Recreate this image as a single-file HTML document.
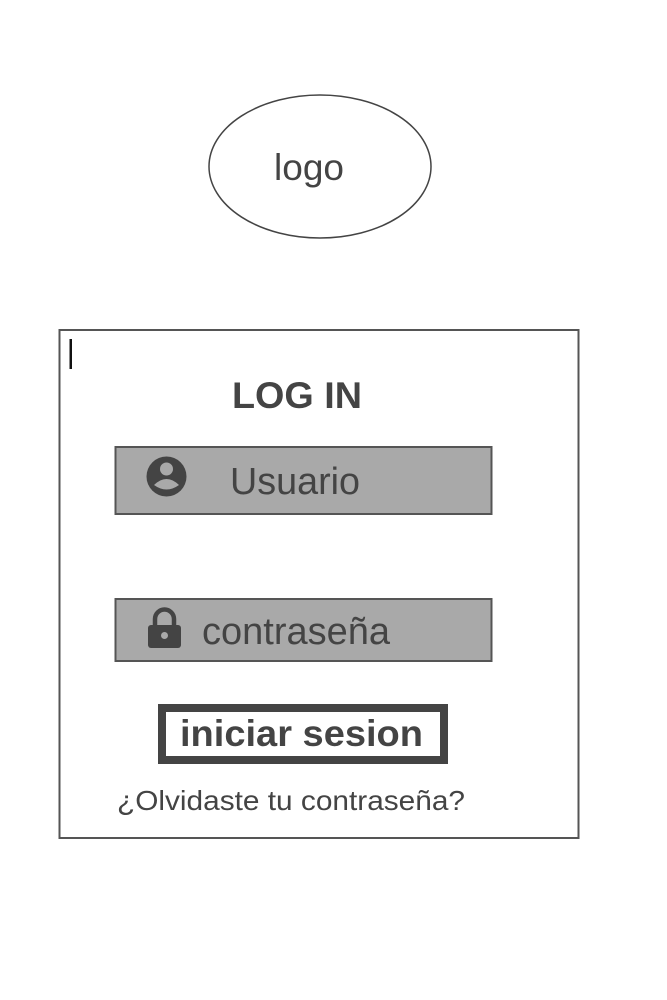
<!DOCTYPE html>
<html><head><meta charset="utf-8"><style>
html,body{margin:0;padding:0;background:#fff;}
svg{display:block;font-family:"Liberation Sans",sans-serif;}
</style></head><body>
<svg width="667" height="1000" viewBox="0 0 667 1000" xmlns="http://www.w3.org/2000/svg">
<ellipse cx="320" cy="166.5" rx="111" ry="71.5" fill="#fff" stroke="#444" stroke-width="1.5"/>
<text x="274" y="180" font-size="37" fill="#444" textLength="70" lengthAdjust="spacingAndGlyphs">logo</text>
<rect x="59.5" y="330" width="519" height="508" fill="#fff" stroke="#555" stroke-width="2"/>
<rect x="69.5" y="339" width="2.5" height="30" fill="#111"/>
<text x="232" y="408" font-size="37" font-weight="bold" fill="#444" textLength="130" lengthAdjust="spacingAndGlyphs">LOG IN</text>
<rect x="115.5" y="447" width="376" height="67" fill="#a9a9a9" stroke="#555" stroke-width="2"/>
<circle cx="166.5" cy="476.5" r="20" fill="#444"/>
<circle cx="166.5" cy="469" r="6.5" fill="#a9a9a9"/>
<path d="M154 485 Q166.5 473 179 485 Q166.5 494 154 485Z" fill="#a9a9a9"/>
<text x="230" y="494" font-size="38" fill="#444" textLength="130" lengthAdjust="spacingAndGlyphs">Usuario</text>
<rect x="115.5" y="599" width="376" height="62" fill="#a9a9a9" stroke="#555" stroke-width="2"/>
<path d="M155 627 v-8 a9.5 9.5 0 0 1 19 0 v8" fill="none" stroke="#444" stroke-width="4.5"/>
<rect x="148" y="625" width="33" height="23" rx="3" fill="#444"/>
<circle cx="164.5" cy="635.5" r="3.5" fill="#a9a9a9"/>
<text x="202" y="644" font-size="38" fill="#444" textLength="188" lengthAdjust="spacingAndGlyphs">contraseña</text>
<rect x="162" y="708" width="282" height="52" fill="#fff" stroke="#444" stroke-width="8"/>
<text x="180" y="746" font-size="37" font-weight="bold" fill="#444" textLength="243" lengthAdjust="spacingAndGlyphs">iniciar sesion</text>
<text x="117" y="810" font-size="28" fill="#444" textLength="348" lengthAdjust="spacingAndGlyphs">¿Olvidaste tu contraseña?</text>
</svg>
</body></html>
